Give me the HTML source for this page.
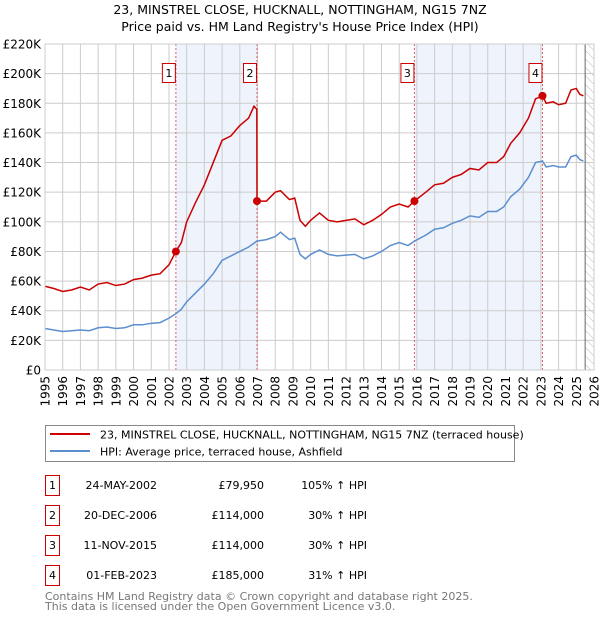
<!DOCTYPE html>
<html><head><meta charset="utf-8"><style>
body{margin:0;background:#fff;font-family:"DejaVu Sans","Liberation Sans",sans-serif;}
svg text{font-family:"DejaVu Sans","Liberation Sans",sans-serif;}
</style></head><body>
<svg id="chart" width="600" height="620" xmlns="http://www.w3.org/2000/svg">
<text x="300" y="14" text-anchor="middle" font-size="12.5">23, MINSTREL CLOSE, HUCKNALL, NOTTINGHAM, NG15 7NZ</text>
<text x="300" y="31" text-anchor="middle" font-size="12.5">Price paid vs. HM Land Registry's House Price Index (HPI)</text>
<defs><pattern id="hatch" width="6" height="6" patternUnits="userSpaceOnUse" patternTransform="rotate(-45)"><line x1="0" y1="0" x2="0" y2="6" stroke="#bbb" stroke-width="1"/></pattern></defs>
<g id="bg"></g><g id="grid"></g><g id="lines"></g><g id="marks"></g><g id="axes"></g>
<g>
<rect x="45.5" y="425.5" width="469" height="36" fill="#fff" stroke="#888"/>
<line x1="50" y1="434" x2="90" y2="434" stroke="#cc0000" stroke-width="2"/>
<text x="100" y="438.5" font-size="11">23, MINSTREL CLOSE, HUCKNALL, NOTTINGHAM, NG15 7NZ (terraced house)</text>
<line x1="50" y1="451" x2="90" y2="451" stroke="#5b8fd0" stroke-width="2"/>
<text x="100" y="455.5" font-size="11">HPI: Average price, terraced house, Ashfield</text>
</g>
<g id="table" font-size="11"></g>
<text x="45" y="600" font-size="11" fill="#777">Contains HM Land Registry data © Crown copyright and database right 2025.</text>
<text x="45" y="610" font-size="11" fill="#777">This data is licensed under the Open Government Licence v3.0.</text>
</svg>
<script>
const hpiT=[1995,1995.5,1996,1996.5,1997,1997.5,1998,1998.5,1999,1999.5,2000,2000.5,2001,2001.5,2002,2002.39,2002.7,2003,2003.5,2004,2004.5,2005,2005.5,2006,2006.5,2006.97,2007.5,2008,2008.3,2008.8,2009.1,2009.4,2009.7,2010,2010.5,2011,2011.5,2012,2012.5,2013,2013.5,2014,2014.5,2015,2015.5,2015.86,2016.5,2017,2017.5,2018,2018.5,2019,2019.5,2020,2020.5,2020.9,2021.3,2021.8,2022.3,2022.7,2023.09,2023.3,2023.7,2024,2024.4,2024.7,2025,2025.2,2025.4];
const hpiV=[28,27,26,26.5,27,26.5,28.5,29,28,28.5,30.5,30.5,31.5,32,35,38,41,46,52,58,65,74,77,80,83,87,88,90,93,88,89,78,75,78,81,78,77,77.5,78,75,77,80,84,86,84,87,91,95,96,99,101,104,103,107,107,110,117,122,130,140,141,137,138,137,137,144,145,142,141];
const redT=[1995,1995.5,1996,1996.5,1997,1997.5,1998,1998.5,1999,1999.5,2000,2000.5,2001,2001.5,2002,2002.39,2002.7,2003,2003.5,2004,2004.5,2005,2005.5,2006,2006.5,2006.8,2006.96,2006.97,2007.5,2008,2008.3,2008.8,2009.1,2009.4,2009.7,2010,2010.5,2011,2011.5,2012,2012.5,2013,2013.5,2014,2014.5,2015,2015.5,2015.86,2016.5,2017,2017.5,2018,2018.5,2019,2019.5,2020,2020.5,2020.9,2021.3,2021.8,2022.3,2022.7,2023.09,2023.3,2023.7,2024,2024.4,2024.7,2025,2025.2,2025.4];
const redV=[56.5,55,53,54,56,54,58,59,57,58,61,62,64,65,71,80,86,100,113,125,140,155,158,165,170,178,176,114,114,120,121,115,116,101,97,101,106,101,100,101,102,98,101,105,110,112,110,114,120,125,126,130,132,136,135,140,140,144,153,160,170,183,185,180,181,179,180,189,190,186,185];
const saleT=[2002.39,2006.97,2015.86,2023.09];
const saleV=[79.95,114,114,185];
const saleLabels=["1","2","3","4"];
const saleDates=["24-MAY-2002","20-DEC-2006","11-NOV-2015","01-FEB-2023"];
const salePrices=["£79,950","£114,000","£114,000","£185,000"];
const saleHpi=["105% ↑ HPI","30% ↑ HPI","30% ↑ HPI","31% ↑ HPI"];
const yTicks=[0,20,40,60,80,100,120,140,160,180,200,220];
const xTicks=[1995,1996,1997,1998,1999,2000,2001,2002,2003,2004,2005,2006,2007,2008,2009,2010,2011,2012,2013,2014,2015,2016,2017,2018,2019,2020,2021,2022,2023,2024,2025,2026];
const X0=45,X1=594,Y0=370,Y1=44,dataEnd=2025.5;
const sx=t=>X0+(t-1995)/(2026-1995)*(X1-X0);
const sy=v=>Y0-v/220*(Y0-Y1);
const NS="http://www.w3.org/2000/svg";
function mk(tag,attrs,parent,txt){const e=document.createElementNS(NS,tag);for(const k in attrs)e.setAttribute(k,attrs[k]);if(txt!==undefined)e.textContent=txt;document.getElementById(parent).appendChild(e);return e;}
let e;
e=mk('rect',{x:X0,y:Y1,width:X1-X0,height:Y0-Y1,fill:'#fff'},'bg');


for(let i=0;i<saleT.length;i+=2){
 e=mk('rect',{x:sx(saleT[i]),y:Y1,width:sx(saleT[i+1])-sx(saleT[i]),height:Y0-Y1,fill:'#eef3fc'},'bg');
 
 
}
e=mk('rect',{x:sx(dataEnd),y:Y1,width:X1-sx(dataEnd),height:Y0-Y1,fill:'url(#hatch)'},'bg');


yTicks.forEach(v=>{
 e=mk('line',{x1:X0,x2:X1,y1:sy(v),y2:sy(v),stroke:'#ccc','stroke-width':1},'grid');
 
 
 e=mk('text',{x:X0-4,y:sy(v)+4.5,'text-anchor':'end','font-size':12},'axes',v===0?'£0':'£'+v+'K');
 
 
});
xTicks.forEach(t=>{
 e=mk('line',{x1:sx(t),x2:sx(t),y1:Y1,y2:Y0,stroke:'#ccc','stroke-width':1},'grid');
 
 
 e=mk('text',{x:0,y:0,'text-anchor':'end','font-size':12,transform:`translate(${sx(t)+4.5},${Y0+6}) rotate(-90)`},'axes',String(t));
 
 
});
e=mk('line',{x1:sx(dataEnd),x2:sx(dataEnd),y1:Y1,y2:Y0,stroke:'#666','stroke-width':1},'grid');


saleT.forEach(t=>{
 e=mk('line',{x1:sx(t),x2:sx(t),y1:Y1,y2:Y0,stroke:'#e06060','stroke-width':1,'stroke-dasharray':'2,2'},'grid');
 
 
});
e=mk('polyline',{points:hpiT.map((t,i)=>sx(t)+','+sy(hpiV[i])).join(' '),fill:'none',stroke:'#5b8fd0','stroke-width':1.5},'lines');


e=mk('polyline',{points:redT.map((t,i)=>sx(t)+','+sy(redV[i])).join(' '),fill:'none',stroke:'#cc0000','stroke-width':1.5},'lines');


saleT.forEach((t,i)=>{
 e=mk('circle',{cx:sx(t),cy:sy(saleV[i]),r:4,fill:'#cc0000'},'marks');
 
 
 e=mk('rect',{x:sx(t)-13.5,y:63.5,width:13,height:19,fill:'#fff',stroke:'#cc0000'},'marks');
 
 
 e=mk('text',{x:sx(t)-7,y:77,'text-anchor':'middle','font-size':11},'marks',saleLabels[i]);
 
 
});
e=mk('rect',{x:X0,y:Y1,width:X1-X0,height:Y0-Y1,fill:'none',stroke:'#ccc'},'axes');


saleLabels.forEach((l,i)=>{
 const y=485+i*30;
 e=mk('rect',{x:45.5,y:y-9.5,width:14,height:20,fill:'#fff',stroke:'#cc0000'},'table');
 
 
 e=mk('text',{x:52.5,y:y+4,'text-anchor':'middle'},'table',l);
 
 
 e=mk('text',{x:157,y:y+4,'text-anchor':'end'},'table',saleDates[i]);
 
 
 e=mk('text',{x:264,y:y+4,'text-anchor':'end'},'table',salePrices[i]);
 
 
 e=mk('text',{x:367,y:y+4,'text-anchor':'end'},'table',saleHpi[i]);
 
 
});
</script>
</body></html>
